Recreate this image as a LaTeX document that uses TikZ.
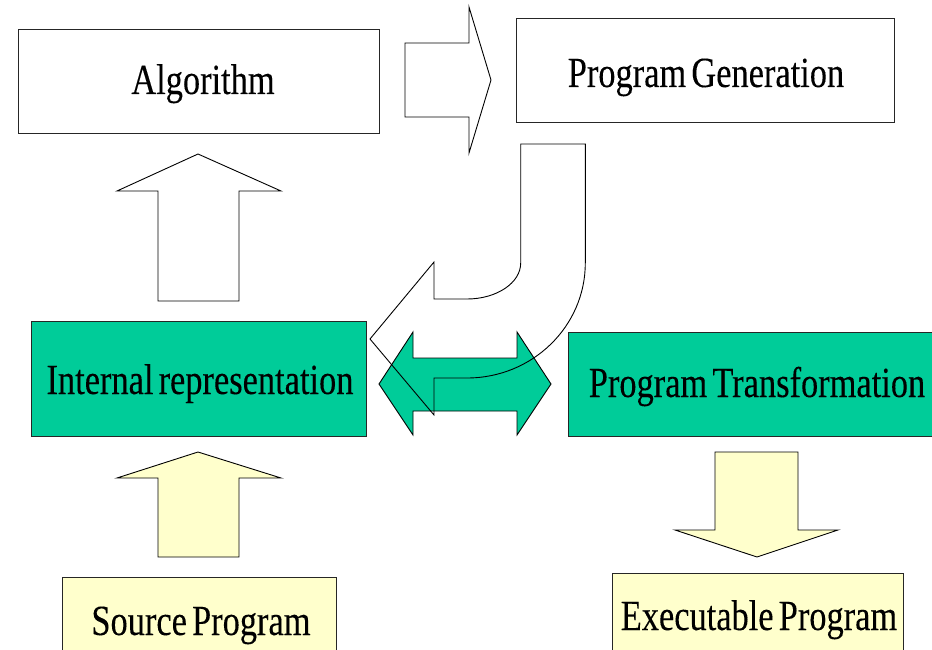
\documentclass[tikz,border=0pt]{standalone}
\usepackage{fontspec}
\setmainfont{Liberation Serif}[FakeStretch=0.8,WordSpace=0.6,FakeBold=0.15]
\definecolor{teal1}{HTML}{00CC99}
\definecolor{pale}{HTML}{FFFFCC}
\begin{document}
\begin{tikzpicture}[x=1pt,y=-1pt,
  box/.style={draw=black!85,line width=0.8pt,rectangle,inner sep=0pt,anchor=north west},
  lbl/.style={anchor=base,inner sep=0pt,font=\fontsize{43}{50}\selectfont},
  blockarrow/.style={draw=black,line width=0.9pt,line join=miter}]
\useasboundingbox (0,0) rectangle (932,650);
\clip (0,0) rectangle (932,650);
% boxes
\node[box,fill=white,minimum width=361pt,minimum height=104pt] (alg) at (18,29) {};
\node[box,fill=white,minimum width=378pt,minimum height=104pt] (gen) at (516,18) {};
\node[box,fill=teal1,minimum width=335pt,minimum height=115pt] (irep) at (31,321) {};
\node[box,fill=teal1,minimum width=380pt,minimum height=104pt] (trans) at (568,332) {};
\node[box,fill=pale,minimum width=274pt,minimum height=90pt] (src) at (62,577) {};
\node[box,fill=pale,minimum width=291pt,minimum height=90pt] (exe) at (612,573) {};
% labels
\node[lbl] (algt) at (203,94) {Algorithm};
\node[lbl] (gent) at (706,87) {Program Generation};
\node[lbl] (irept) at (200,394) {Internal representation};
\node[lbl] (transt) at (757,397) {Program Transformation};
\node[lbl] (srct) at (201,635) {Source Program};
\node[lbl] (exet) at (759,630) {Executable Program};
% right arrow Algorithm -> Program Generation
\draw[blockarrow,fill=white] (405,43) -- (469,43) -- (469,7) -- (491,80) -- (469,153) -- (469,117) -- (405,117) -- cycle;
% up arrow Internal representation -> Algorithm
\draw[blockarrow,fill=white] (158,301) -- (158,191) -- (117,191) -- (198,154) -- (281,191) -- (239,191) -- (239,301) -- cycle;
% up arrow Source -> Internal
\draw[blockarrow,fill=pale] (158,557) -- (158,478) -- (117,478) -- (198,452) -- (281,478) -- (239,478) -- (239,557) -- cycle;
% down arrow Transformation -> Executable
\draw[blockarrow,fill=pale] (715,452) -- (798,452) -- (798,530) -- (838,530) -- (757,557) -- (675,530) -- (715,530) -- cycle;
% double arrow
\draw[blockarrow,fill=teal1] (379,384) -- (413,332) -- (413,358) -- (517,358) -- (517,332) -- (551,384) -- (517,435) -- (517,411) -- (413,411) -- (413,435) -- cycle;
% curved arrow (outline only)
\draw[blockarrow] (520.7,144) -- (585.3,144) -- (585.3,263)
  arc[start angle=0,end angle=90,x radius=118.3,y radius=115] -- (434,378) -- (434,415) -- (370,339) -- (434,262) -- (434,299) -- (467,299)
  arc[start angle=90,end angle=0,x radius=53.7,y radius=36] -- cycle;
\end{tikzpicture}
\end{document}
